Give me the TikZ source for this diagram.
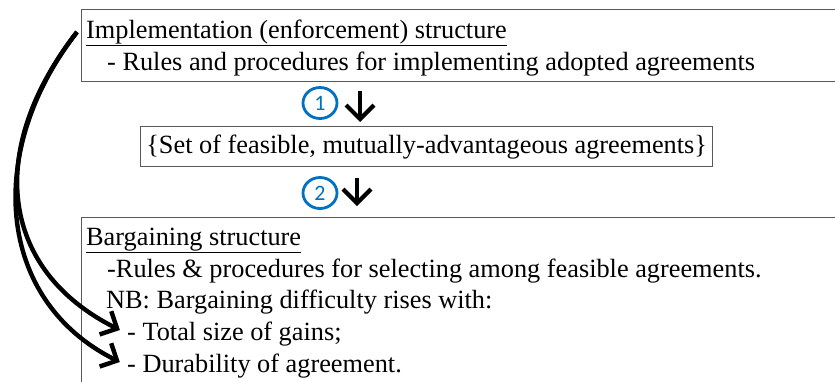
\documentclass[tikz,border=0pt]{standalone}
\usepackage{fontspec}
\setmainfont{Liberation Serif}
\newfontfamily\numfont{Carlito}
\usetikzlibrary{arrows.meta,shapes.geometric}

\definecolor{numblue}{RGB}{0,112,192}

\tikzset{
	box/.style={draw=black!65, line width=1.3pt, anchor=north west, inner sep=0pt},
	txt/.style={anchor=base west, inner sep=0pt, font=\fontsize{26.3}{30}\selectfont},
	num/.style={ellipse, draw=numblue, line width=2.8pt, minimum width=34pt, minimum height=31pt,
		inner sep=0pt, text=numblue, font=\numfont\fontsize{22}{22}\selectfont},
	downarrow/.style={line width=4.2pt, -{Straight Barb[length=14pt, width=28pt]}},
	backarrow/.style={line width=4.4pt, -{Straight Barb[length=13pt, width=26pt]}}
}

\begin{document}
\begin{tikzpicture}[x=1pt, y=-1pt]
	\useasboundingbox (0,0) rectangle (835,381);
	\clip (0,0) rectangle (835,381);

	% implementation box
	\node[box, minimum width=780pt, minimum height=72pt] (impl) at (81,9) {};
	\node[txt] (implhead) at (86,38) {\underline{Implementation (enforcement) structure}};
	\node[txt] (impl1) at (107,70) {- Rules and procedures for implementing adopted agreements};

	% feasible set
	\node[box, minimum width=572pt, minimum height=40pt, font=\fontsize{26.3}{30}\selectfont] (set) at (140,126) {\{Set of feasible, mutually-advantageous agreements\}};

	% bargaining box
	\node[box, minimum width=780pt, minimum height=200pt] (barg) at (81,217) {};
	\node[txt] (barghead) at (86,245) {\underline{Bargaining structure}};
	\node[txt] (barg1) at (107,277) {-Rules \& procedures for selecting among feasible agreements.};
	\node[txt] (barg2) at (106,308) {NB: Bargaining difficulty rises with:};
	\node[txt] (total) at (127,340) {- Total size of gains;};
	\node[txt] (durab) at (127,372) {- Durability of agreement.};

	% steps
	\node[num] (one) at (320,103) {1};
	\node[num] (two) at (320,193) {2};
	\coordinate (a1) at (360,0);
	\coordinate (a2) at (357,0);
	\draw[downarrow, shorten <=9pt, shorten >=4pt] (impl.south -| a1) -- (set.north -| a1);
	\draw[downarrow, shorten <=11pt, shorten >=11pt] (set.south -| a2) -- (barg.north -| a2);

	% feedback arrows
	\coordinate (src) at (77,32);
	\draw[backarrow, shorten >=8pt] (src) .. controls (-15,150) and (0,270) .. (total.west);
	\draw[backarrow, shorten >=8pt] (src) .. controls (-15,150) and (-5,300) .. (durab.west);
\end{tikzpicture}
\end{document}
